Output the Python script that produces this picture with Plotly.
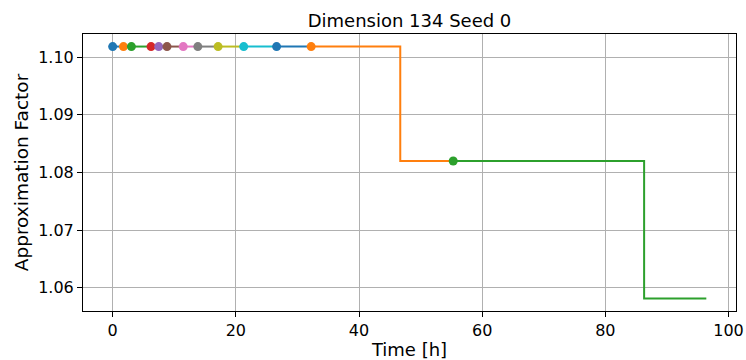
import plotly.graph_objects as go

# Each run: times where its approximation factor changes, and the values
run_times = [
    [0.0], [1.75], [3.04], [6.23], [7.48], [8.82], [11.46], [13.83],
    [17.12], [21.28], [26.62], [32.23, 46.7], [55.3, 86.3],
]
run_values = [
    [1.10185], [1.10185], [1.10185], [1.10185], [1.10185], [1.10185],
    [1.10185], [1.10185], [1.10185], [1.10185], [1.10185],
    [1.10185, 1.0820], [1.0820, 1.05815],
]
end_time = 96.4

colors = ["#1f77b4", "#ff7f0e", "#2ca02c", "#d62728", "#9467bd",
          "#8c564b", "#e377c2", "#7f7f7f", "#bcbd22", "#17becf"]

x_ticks = [0, 20, 40, 60, 80, 100]
y_ticks = [1.06, 1.07, 1.08, 1.09, 1.10]

fig = go.Figure()
for i, (ts, vs) in enumerate(zip(run_times, run_values)):
    nxt = run_times[i + 1][0] if i + 1 < len(run_times) else end_time
    xs = list(ts) + [nxt]
    ys = list(vs) + [vs[-1]]
    c = colors[i % len(colors)]
    fig.add_trace(go.Scatter(x=xs, y=ys, mode="lines", line=dict(color=c, width=2, shape="hv"),
                             showlegend=False, hoverinfo="skip"))
    fig.add_trace(go.Scatter(x=[ts[0]], y=[vs[0]], mode="markers",
                             marker=dict(color=c, size=9, line=dict(width=0)),
                             showlegend=False, cliponaxis=False))

font = "DejaVu Sans"
axis_common = dict(
    showline=True, mirror=True, linecolor="black", linewidth=1,
    ticks="outside", ticklen=5, tickwidth=1, tickcolor="black",
    showgrid=True, gridcolor="#b0b0b0", gridwidth=1, zeroline=False,
    tickfont=dict(family=font, size=16, color="black"), automargin=False,
)
fig.update_xaxes(range=[-4.82, 101.22], tickvals=x_ticks,
                 title=dict(text="Time [h]", font=dict(family=font, size=18, color="black"), standoff=4),
                 **axis_common)
fig.update_yaxes(range=[1.05597, 1.10403], tickvals=y_ticks, tickformat=".2f",
                 title=dict(text="Approximation Factor", font=dict(family=font, size=18.5, color="black"), standoff=4),
                 **axis_common)
fig.update_layout(
    width=746, height=360,
    margin=dict(l=83, r=10, t=34, b=49),
    paper_bgcolor="white", plot_bgcolor="white",
    title=dict(text="Dimension 134 Seed 0", x=0.5, xref="paper", xanchor="center",
               y=1 - 21 / 360, yref="container", yanchor="middle",
               font=dict(family=font, size=18, color="black")),
)
fig.write_html("out.html")
